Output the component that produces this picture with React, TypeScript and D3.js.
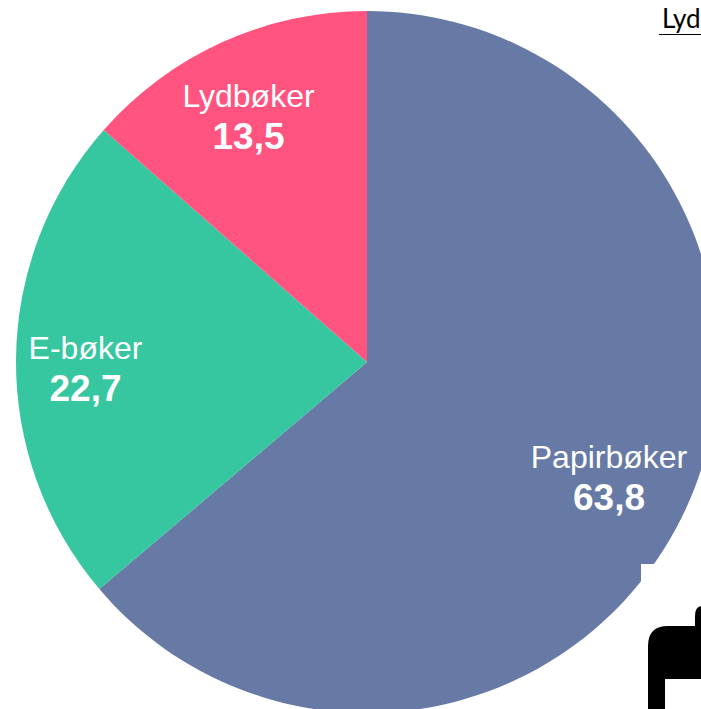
import React from 'react';
import * as d3 from 'd3';

const categories = ['Papirbøker', 'E-bøker', 'Lydbøker'];
const shares = [63.8, 22.7, 13.5];
const shareLabels = ['63,8', '22,7', '13,5'];
const colors = ['#667aa5', '#36c6a0', '#ff5480'];

const W = 701;
const H = 709;
const cx = 367;
const cy = 362;
const radius = 351;

// label anchors relative to the pie centre, placed by hand like the original
const labelAt: Record<string, [number, number]> = {
  'Papirbøker': [242, 106],
  'E-bøker': [-281.5, -3],
  'Lydbøker': [-118.5, -255],
};

export default function App() {
  const pie = d3.pie<number>().sort(null)(shares);
  const arc = d3.arc<d3.PieArcDatum<number>>().innerRadius(0).outerRadius(radius);
  const color = d3.scaleOrdinal<string, string>().domain(categories).range(colors);

  return (
    <svg
      width={W}
      height={H}
      style={{ position: 'absolute', left: 0, top: 0, display: 'block', background: '#fff' }}
    >
      <g transform={`translate(${cx},${cy})`}>
        {pie.map((d, i) => (
          <path key={categories[i]} d={arc(d) ?? ''} fill={color(categories[i])} />
        ))}
        {categories.map((name, i) => {
          const [x, y] = labelAt[name];
          return (
            <g key={name} transform={`translate(${x},${y})`} textAnchor="middle" fill="#fff"
              fontFamily="'Liberation Sans', Arial, sans-serif">
              <text fontSize={32}>{name}</text>
              <text y={42} fontSize={37} fontWeight="bold">{shareLabels[i]}</text>
            </g>
          );
        })}
      </g>

      {/* stray bits of the screenshot at the right edge */}
      <rect x={641} y={564} width={60} height={60} fill="#fff" />
      <path
        d="M648,709 V646 Q648,626 668,626 H695 V616 Q695,607 701,606 V679 H665 V709 Z"
        fill="#000"
      />
      <text x={662} y={28} fontSize={26} fill="#000" fontFamily="Lato, 'Open Sans', sans-serif">Lyd</text>
      <line x1={659} x2={701} y1={34.5} y2={34.5} stroke="#000" strokeWidth={1} />
    </svg>
  );
}
